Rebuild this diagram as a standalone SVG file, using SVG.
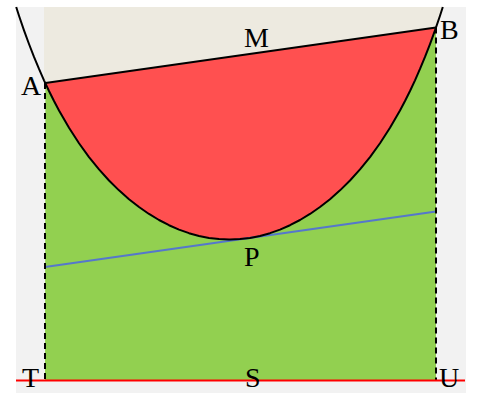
<svg xmlns="http://www.w3.org/2000/svg" width="480" height="393" viewBox="0 0 480 393">
<style>
.lbl{font-family:"Liberation Serif","Times New Roman",serif;font-size:28px;fill:#000}
.dash{stroke:#000;stroke-width:2;stroke-dasharray:6,4;fill:none}
.blk{stroke:#000;stroke-width:2;fill:none;stroke-linejoin:round}
</style>
<rect x="0" y="0" width="480" height="393" fill="#ffffff"/>
<rect id="plot" x="16" y="7" width="450" height="386" fill="#f2f2f2"/>
<g id="regions">
<polygon id="beige" fill="#edeae0" points="44,7 442.8,7 440,15.73 436,27.5 45.4,83 44,83"/>
<polygon id="green" fill="#92d050" points="45.4,83 436,27.5 436,380 45,380"/>
<path id="segment" fill="#ff5050" d="M45.4,83 L49,90.98 54,101.03 59,110.49 69,127.82 79,143.26 89,157.06 99,169.41 109,180.46 119,190.35 129,199.19 139,207.04 149,213.96 159,220.01 169,225.22 179,229.6 189,233.17 199,235.95 209,237.92 219,239.1 229,239.5 230,239.5 240,239.1 250,237.92 260,235.95 270,233.17 280,229.6 290,225.22 300,220.01 310,213.96 320,207.04 330,199.19 340,190.35 350,180.46 360,169.41 370,157.06 380,143.26 390,127.82 400,110.49 405,101.03 410,90.98 415,80.32 420,68.97 425,56.9 430,44.03 435,30.34 436,27.5 Z"/>
</g>
<g id="connectors">
<line id="tangent" x1="45" y1="267" x2="436" y2="211.5" stroke="#5577cc" stroke-width="1.8"/>
<line id="dashA" class="dash" x1="45" y1="83" x2="45" y2="380"/>
<line id="dashB" class="dash" x1="436" y1="27.5" x2="436" y2="380"/>
<polyline id="parabola" class="blk" points="16.2,7 19,15.73 24,30.34 29,44.03 34,56.9 39,68.97 44,80.32 49,90.98 54,101.03 59,110.49 69,127.82 79,143.26 89,157.06 99,169.41 109,180.46 119,190.35 129,199.19 139,207.04 149,213.96 159,220.01 169,225.22 179,229.6 189,233.17 199,235.95 209,237.92 219,239.1 229,239.5 230,239.5 240,239.1 250,237.92 260,235.95 270,233.17 280,229.6 290,225.22 300,220.01 310,213.96 320,207.04 330,199.19 340,190.35 350,180.46 360,169.41 370,157.06 380,143.26 390,127.82 400,110.49 405,101.03 410,90.98 415,80.32 420,68.97 425,56.9 430,44.03 435,30.34 440,15.73 442.8,7"/>
<line id="chord" class="blk" x1="45.4" y1="83" x2="436" y2="27.5"/>
<line id="baseline" x1="16" y1="380.5" x2="465" y2="380.5" stroke="#ff0000" stroke-width="2"/>
</g>
<g id="A"><text class="lbl" x="21" y="95">A</text></g>
<g id="B"><text class="lbl" x="440" y="39">B</text></g>
<g id="M"><text class="lbl" x="244" y="47">M</text></g>
<g id="P"><text class="lbl" x="244" y="266">P</text></g>
<g id="S"><text class="lbl" x="245" y="387">S</text></g>
<g id="T"><text class="lbl" x="22" y="387">T</text></g>
<g id="U"><text class="lbl" x="439" y="387">U</text></g>
</svg>
